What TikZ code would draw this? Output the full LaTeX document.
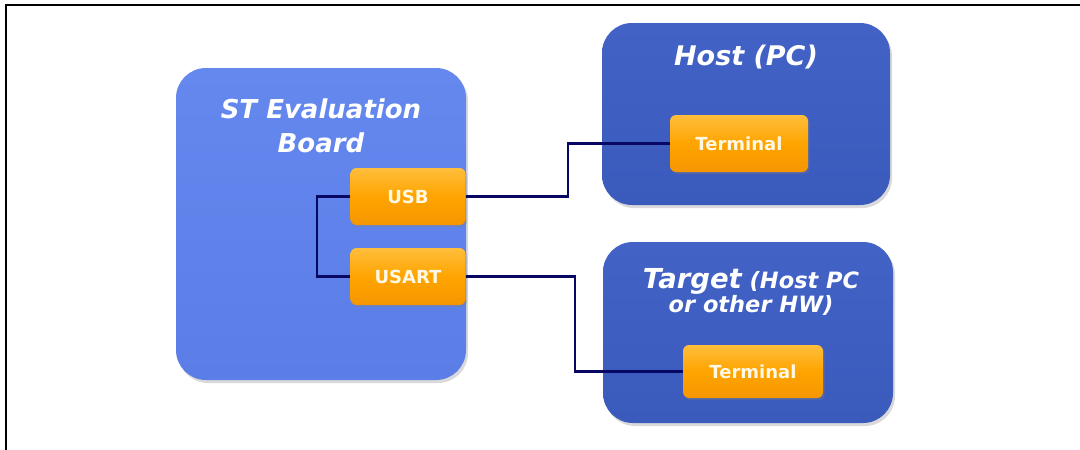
\documentclass[tikz,border=0pt]{standalone}
\usepackage{fontspec}
\setmainfont{DejaVu Sans}
\usetikzlibrary{shadows}
\definecolor{boardblue}{RGB}{90,126,230}
\definecolor{boardtop}{RGB}{100,136,238}
\definecolor{hostblue}{RGB}{58,90,188}
\definecolor{hosttop}{RGB}{66,98,198}
\definecolor{orangemid}{RGB}{255,164,0}
\definecolor{orangetop}{RGB}{255,190,60}
\definecolor{orangebot}{RGB}{245,150,0}
\definecolor{wirecol}{RGB}{8,8,100}
\definecolor{labeltext}{RGB}{255,248,228}
\begin{document}
\begin{tikzpicture}[x=1pt,y=-1pt,
  panel/.style={rounded corners=30pt, draw=none, minimum width=#1, inner sep=0pt,
    drop shadow={opacity=0.3, shadow xshift=2pt, shadow yshift=-3pt}},
  port/.style={rounded corners=6pt, draw=none, inner sep=0pt,
    top color=orangetop, bottom color=orangebot, middle color=orangemid,
    text=labeltext, font=\bfseries\fontsize{18}{20}\selectfont,
    drop shadow={opacity=0.3, shadow xshift=1.5pt, shadow yshift=-2pt}},
  paneltitle/.style={text=white, align=center, anchor=base, inner sep=0pt},
  wire/.style={draw=wirecol, line width=2.2pt}]
\useasboundingbox (0,0) rectangle (1080,450);
% frame (clipped at right and bottom)
\draw[line width=2.5pt] (6,452) -- (6,5) -- (1082,5);
% panels
\node[panel=290pt, minimum height=312pt, top color=boardtop, bottom color=boardblue] (board) at (321,224) {};
\node[panel=288pt, minimum height=182pt, top color=hosttop, bottom color=hostblue] (host) at (746,114) {};
\node[panel=290pt, minimum height=181pt, top color=hosttop, bottom color=hostblue] (target) at (748,332.5) {};
% titles (base anchor = baseline of last line)
\node[paneltitle, font=\bfseries\itshape\fontsize{26}{34}\selectfont] (boardtitle) at (321,152) {ST Evaluation\\Board};
\node[paneltitle, font=\bfseries\itshape\fontsize{27}{31}\selectfont] (hosttitle) at (746,65) {Host (PC)};
\node[paneltitle, font=\bfseries\itshape\fontsize{22.5}{24}\selectfont] (targettitle) at (751,312)
  {{\fontsize{27.5}{24}\selectfont Target} (Host PC\\or other HW)};
% ports
\node[port, minimum width=115pt, minimum height=57pt] (usb) at (408,196.5) {USB};
\node[port, minimum width=115pt, minimum height=57pt] (usart) at (408,276.5) {USART};
\node[port, minimum width=138pt, minimum height=57pt] (hostterm) at (739,143.5) {Terminal};
\node[port, minimum width=140pt, minimum height=53pt] (targetterm) at (753,371.5) {Terminal};
% junction coordinates
\coordinate (jl) at (317,0);
\coordinate (jh) at (568,0);
\coordinate (jt) at (575,0);
% connectors
\draw[wire] (usb.west) -- (usb.west -| jl) -- (jl |- usart.west) -- (usart.west);
\draw[wire] (usb.east) -- (usb.east -| jh) -- (jh |- hostterm.west) -- (hostterm.west);
\draw[wire] (usart.east) -- (usart.east -| jt) -- (jt |- targetterm.west) -- (targetterm.west);
\end{tikzpicture}
\end{document}
